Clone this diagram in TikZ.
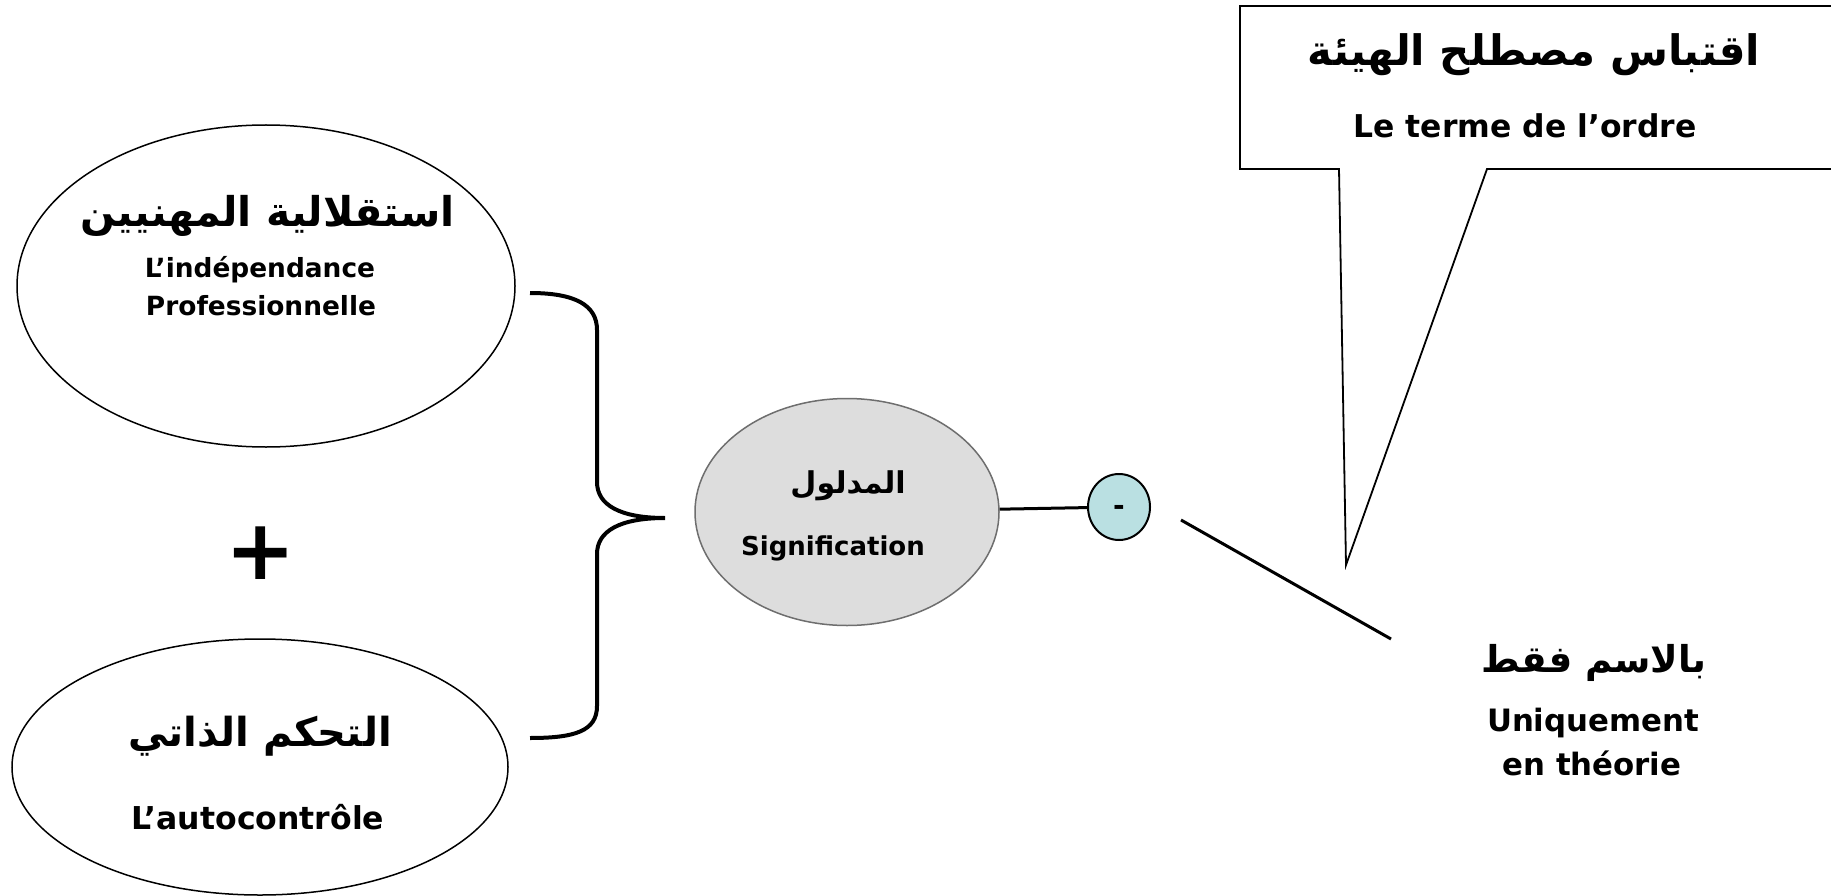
\documentclass[tikz,border=0pt]{standalone}
\usepackage{fontspec}
\setmainfont{DejaVu Sans}
\newfontfamily\arabicfont[Script=Arabic]{DejaVu Sans}
\TeXXeTstate=1
\usetikzlibrary{shapes.geometric}
\definecolor{sigfill}{RGB}{221,221,221}
\definecolor{sigdraw}{RGB}{110,110,110}
\definecolor{minusfill}{RGB}{186,224,226}
\tikzset{
  oval/.style={ellipse, draw=black, line width=1.5pt, fill=white, inner sep=0pt},
  lat/.style={anchor=base, inner sep=0pt},
  arb/.style={anchor=base, inner sep=0pt},
  conn/.style={line width=3pt},
  bracestyle/.style={line width=4pt, line cap=butt},
  callout/.style={draw=black, line width=1.8pt, fill=white, line join=miter},
}
\newcommand{\ARsize}[1]{\fontsize{#1}{#1}\selectfont\arabicfont\bfseries}
\newcommand{\LTtext}[2]{{\fontsize{#1}{#1}\selectfont\bfseries #2}}
\begin{document}
\begin{tikzpicture}[x=1pt,y=-1pt]
\useasboundingbox (0,0) rectangle (1831,896);
\fill[white] (0,0) rectangle (1831,896);

% left ellipses
\node[oval, minimum width=498pt, minimum height=322pt] (e1) at (266,286) {};
\node[oval, minimum width=496pt, minimum height=256pt] (e2) at (260,767) {};

% texts of left ellipses
\node[arb] (t1a) at (268,227) {\ARsize{41}\beginR استقلالية المهنيين\endR};
\node[lat] (t1b) at (260,277) {\LTtext{26.4}{L’indépendance}};
\node[lat] (t1c) at (261,315) {\LTtext{26.4}{Professionnelle}};
\node[arb] (t2a) at (260,746) {\ARsize{40}\beginR التحكم الذاتي\endR};
\node[lat] (t2b) at (258,829) {\LTtext{31.5}{L’autocontrôle}};

% plus
\node[inner sep=0pt] (plus) at (261,553) {\LTtext{84}{+}};

% brace
\coordinate (bt) at (530,293);
\coordinate (bc) at (665,518);
\coordinate (bb) at (530,738);
\draw[bracestyle] (bt) .. controls (575,293) and (597,305) .. (597,330)
  -- (597,482) .. controls (597,505) and (620,518) .. (bc)
  .. controls (620,518) and (597,531) .. (597,554)
  -- (597,706) .. controls (597,731) and (575,738) .. (bb);

% central ellipse
\node[ellipse, draw=sigdraw, line width=1.5pt, fill=sigfill, inner sep=0pt,
      minimum width=304pt, minimum height=227pt] (sig) at (847,512) {};
\node[arb] (sigA) at (848,493) {\ARsize{30}\beginR المدلول\endR};
\node[lat] (sigL) at (833,555) {\LTtext{26}{Signification}};

% minus circle
\node[ellipse, draw=black, line width=2pt, fill=minusfill, inner sep=0pt,
      minimum width=62pt, minimum height=66pt] (minus) at (1119,507) {};
\node[inner sep=0pt] (minusT) at (1119,510) {\LTtext{28}{-}};
\draw[conn] (sig) -- (minus);

% free line
\coordinate (la) at (1181,520);
\coordinate (lb) at (1391,639);
\draw[conn] (la) -- (lb);

% callout
\draw[callout] (1240,6) -- (1850,6) -- (1850,169) -- (1487,169) -- (1346,565)
  -- (1339,169) -- (1240,169) -- cycle;
\node[arb] (cA) at (1534,66) {\ARsize{42}\beginR اقتباس مصطلح الهيئة\endR};
\node[lat] (cL) at (1525,138) {\LTtext{31.4}{Le terme de l’ordre}};

% bottom right
\node[arb] (bA) at (1594,672) {\ARsize{37}\beginR بالاسم فقط\endR};
\node[lat] (bL1) at (1593,731) {\LTtext{30.8}{Uniquement}};
\node[lat] (bL2) at (1592,775) {\LTtext{30.8}{en théorie}};
\end{tikzpicture}
\end{document}
